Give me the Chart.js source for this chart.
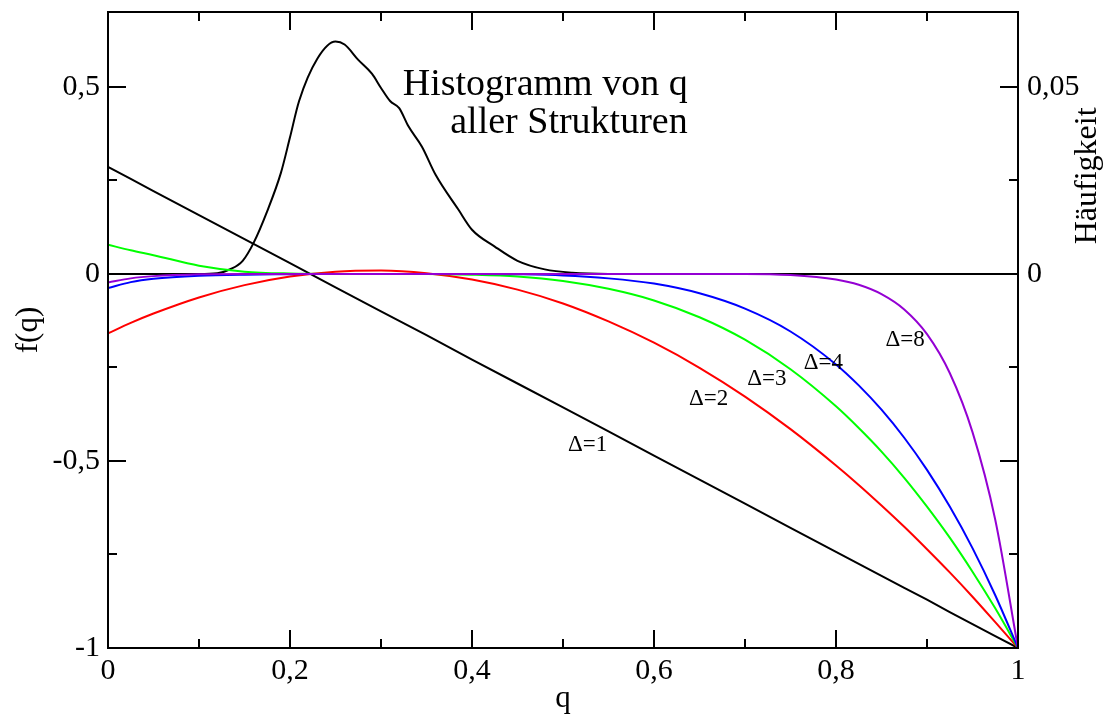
<!DOCTYPE html>
<html>
<head>
<meta charset="utf-8">
<script src="https://cdn.jsdelivr.net/npm/chart.js@4.4.1/dist/chart.umd.min.js"></script>
<style>
  html, body { margin: 0; padding: 0; background: #ffffff; }
  #wrap { width: 1104px; height: 717px; position: relative; }
</style>
</head>
<body>
<div id="wrap"><canvas id="c"></canvas></div>
<script>
// ---- data ----
const qValues = [0, 0.025, 0.05, 0.1, 0.15, 0.2, 0.25, 0.3, 0.35, 0.4, 0.45, 0.5, 0.55, 0.6, 0.65, 0.7, 0.75, 0.8, 0.825, 0.85, 0.875, 0.9, 0.925, 0.95, 0.975, 1];
const delta1 = [0.286, 0.254, 0.221, 0.157, 0.093, 0.029, -0.036, -0.100, -0.164, -0.229, -0.293, -0.357, -0.421, -0.486, -0.550, -0.614, -0.679, -0.743, -0.775, -0.807, -0.839, -0.871, -0.904, -0.936, -0.968, -1];
const delta2 = [-0.159, -0.131, -0.106, -0.063, -0.030, -0.007, 0.006, 0.009, 0.002, -0.015, -0.042, -0.079, -0.127, -0.184, -0.251, -0.328, -0.415, -0.512, -0.564, -0.619, -0.676, -0.736, -0.798, -0.863, -0.931, -1];
const delta3 = [0.078, 0.063, 0.050, 0.022, 0.006, 0.001, 0, 0, 0, -0.002, -0.007, -0.019, -0.040, -0.071, -0.116, -0.176, -0.255, -0.354, -0.412, -0.475, -0.545, -0.622, -0.705, -0.796, -0.894, -1];
const delta4 = [-0.038, -0.022, -0.013, -0.005, -0.002, -0.001, 0, 0, 0, 0, -0.001, -0.004, -0.012, -0.026, -0.052, -0.093, -0.154, -0.242, -0.298, -0.363, -0.438, -0.524, -0.622, -0.733, -0.859, -1];
const delta8 = [-0.023, -0.012, -0.006, -0.001, 0, 0, 0, 0, 0, 0, 0, 0, 0, 0, 0, 0, -0.003, -0.015, -0.029, -0.054, -0.095, -0.161, -0.265, -0.423, -0.657, -1];
const histQ = [0, 0.1, 0.12, 0.135, 0.148, 0.16, 0.175, 0.19, 0.2, 0.21, 0.23, 0.25, 0.26, 0.275, 0.29, 0.30, 0.31, 0.32, 0.33, 0.345, 0.36, 0.385, 0.40, 0.425, 0.45, 0.48, 0.51, 0.55, 1.0];
const histH = [0, 0, 0.0002, 0.0013, 0.0035, 0.0083, 0.0168, 0.027, 0.0365, 0.0462, 0.0575, 0.0621, 0.0613, 0.0572, 0.0535, 0.0497, 0.0462, 0.0443, 0.0395, 0.034, 0.0265, 0.0172, 0.0118, 0.0073, 0.0035, 0.0012, 0.0003, 0, 0];
const seriesNames = ['Δ=1', 'Δ=2', 'Δ=3', 'Δ=4', 'Δ=8'];
const leftTickLabels = [-1, -0.5, 0, 0.5];
const rightTickLabels = [0, 0.05];
const xTitle = 'q';
const yTitle = 'f(q)';
const y1Title = 'Häufigkeit';
const histText = ['Histogramm von q', 'aller Strukturen'];

// ---- styling / annotation placement ----
const SERIF = "'Liberation Serif', 'Times New Roman', 'DejaVu Serif', serif";
const colors = ['#000000', '#ff0000', '#00ff00', '#0000ff', '#9400d3'];
const curveLabelPos = [
  {q: 0.527, f: -0.457},
  {q: 0.660, f: -0.334},
  {q: 0.724, f: -0.281},
  {q: 0.786, f: -0.238},
  {q: 0.876, f: -0.176}
];

const pts = (xs, ys) => xs.map((x, i) => ({x: x, y: ys[i]}));
const fmt = v => String(Number(v.toFixed(3))).replace('.', ',');

const curves = [delta1, delta2, delta3, delta4, delta8];
const datasets = curves.map((arr, i) => ({
  label: seriesNames[i],
  data: pts(qValues, arr),
  borderColor: colors[i],
  borderWidth: 2,
  pointRadius: 0,
  fill: false,
  cubicInterpolationMode: i === 0 ? 'default' : 'monotone',
  tension: 0,
  yAxisID: 'y',
  order: 5 - i
}));
datasets.push({
  label: 'Histogramm',
  data: pts(histQ, histH),
  borderColor: '#000000',
  borderWidth: 2,
  pointRadius: 0,
  fill: false,
  cubicInterpolationMode: 'monotone',
  yAxisID: 'y1',
  order: 10
});

const framePlugin = {
  id: 'frameTicks',
  afterDraw(chart) {
    const ctx = chart.ctx;
    const a = chart.chartArea;
    const xs = chart.scales.x, ys = chart.scales.y, y1 = chart.scales.y1;
    ctx.save();
    ctx.strokeStyle = '#000';
    ctx.lineWidth = 2;
    ctx.strokeRect(a.left, a.top, a.right - a.left, a.bottom - a.top);
    const major = 18, minor = 9;
    for (let k = 0; k <= 10; k++) {
      const v = k / 10;
      const px = Math.round(xs.getPixelForValue(v));
      const len = (k % 2 === 0) ? major : minor;
      ctx.beginPath();
      ctx.moveTo(px, a.bottom); ctx.lineTo(px, a.bottom - len);
      ctx.moveTo(px, a.top); ctx.lineTo(px, a.top + len);
      ctx.stroke();
    }
    for (let k = -4; k <= 2; k++) {
      const v = k / 4;
      const py = Math.round(ys.getPixelForValue(v));
      const len = (k % 2 === 0) ? major : minor;
      ctx.beginPath();
      ctx.moveTo(a.left, py); ctx.lineTo(a.left + len, py);
      ctx.moveTo(a.right, py); ctx.lineTo(a.right - len, py);
      ctx.stroke();
    }
    ctx.fillStyle = '#000';
    ctx.font = '23px ' + SERIF;
    ctx.textAlign = 'center';
    ctx.textBaseline = 'middle';
    curveLabelPos.forEach((p, i) => {
      ctx.fillText(seriesNames[i], xs.getPixelForValue(p.q), ys.getPixelForValue(p.f));
    });
    ctx.font = '38px ' + SERIF;
    ctx.textAlign = 'right';
    ctx.textBaseline = 'alphabetic';
    ctx.fillText(histText[0], xs.getPixelForValue(0.637), ys.getPixelForValue(0.479));
    ctx.fillText(histText[1], xs.getPixelForValue(0.637), ys.getPixelForValue(0.377));
    ctx.font = '32px ' + SERIF;
    ctx.textAlign = 'center';
    ctx.textBaseline = 'middle';
    ctx.translate(1088, y1.getPixelForValue(0.0262));
    ctx.rotate(-Math.PI / 2);
    ctx.fillText(y1Title, 0, 0);
    ctx.restore();
  }
};

const noPad = s => { s.paddingTop = 0; s.paddingBottom = 0; s.paddingLeft = 0; s.paddingRight = 0; };

new Chart(document.getElementById('c'), {
  type: 'line',
  data: { datasets: datasets },
  plugins: [framePlugin],
  options: {
    responsive: true,
    maintainAspectRatio: false,
    animation: false,
    events: [],
    layout: { padding: { top: 12, left: 0, right: 0, bottom: 0 } },
    plugins: { legend: { display: false }, tooltip: { enabled: false } },
    scales: {
      x: {
        type: 'linear', position: 'bottom', min: 0, max: 1,
        grid: { display: false, drawTicks: false },
        border: { display: false },
        ticks: { stepSize: 0.2, color: '#000', padding: 5, maxRotation: 0,
                 font: { family: SERIF, size: 30 }, callback: v => fmt(v) },
        title: { display: true, text: xTitle, color: '#000',
                 font: { family: SERIF, size: 31 }, padding: { top: 0, bottom: 0 } },
        afterFit: s => { s.height = 69; noPad(s); }
      },
      y: {
        type: 'linear', position: 'left', min: -1, max: 0.7,
        grid: { display: false, drawTicks: false },
        border: { display: false },
        ticks: { color: '#000', padding: 8, font: { family: SERIF, size: 30, lineHeight: 0.8 },
                 callback: v => fmt(v) },
        afterBuildTicks: s => { s.ticks = leftTickLabels.map(v => ({value: v})); },
        title: { display: true, text: yTitle, color: '#000',
                 font: { family: SERIF, size: 31 }, padding: { top: 10, bottom: 0 } },
        afterFit: s => { s.width = 108; noPad(s); }
      },
      y1: {
        type: 'linear', position: 'right', min: -0.1, max: 0.07,
        grid: { display: false, drawTicks: false },
        border: { display: false },
        ticks: { color: '#000', padding: 9, font: { family: SERIF, size: 30, lineHeight: 0.8 },
                 callback: v => fmt(v) },
        afterBuildTicks: s => { s.ticks = rightTickLabels.map(v => ({value: v})); },
        afterFit: s => { s.width = 86; noPad(s); }
      }
    }
  }
});
</script>
</body>
</html>
